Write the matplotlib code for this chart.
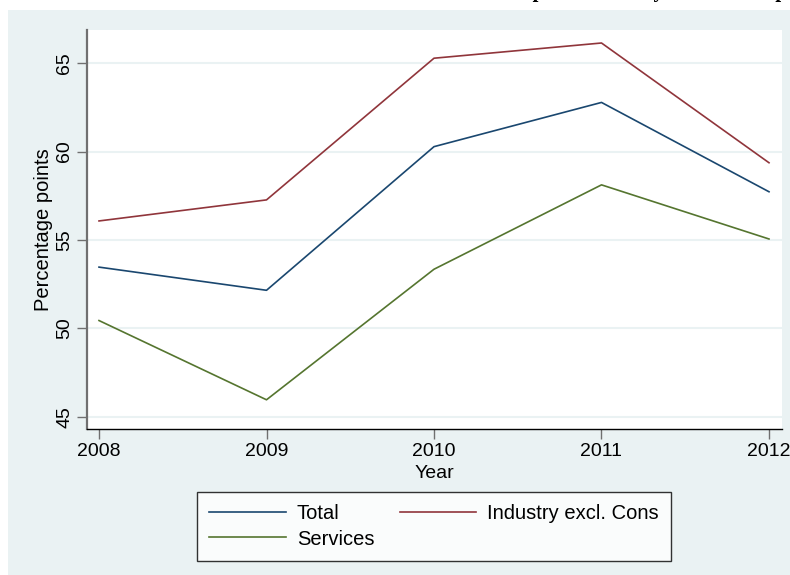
import matplotlib
matplotlib.use("Agg")
import matplotlib.pyplot as plt
from matplotlib.patches import Rectangle

years = [2008, 2009, 2010, 2011, 2012]
total = [53.47, 52.16, 60.28, 62.78, 57.73]
industry = [56.08, 57.27, 65.28, 66.14, 59.37]
services = [50.45, 45.97, 53.35, 58.12, 55.06]
yticks = [45, 50, 55, 60, 65]
labels = ["Total", "Industry excl. Cons", "Services"]
title = "Mean markup over costs by sectors as a percentage"

plt.rcParams['font.family'] = ['Liberation Sans', 'DejaVu Sans']

W, H = 790, 575
fig = plt.figure(figsize=(W / 100, H / 100), dpi=100)
fig.patch.set_facecolor('white')
bg = '#eaf2f3'
fig.add_artist(Rectangle((8 / W, 0), 1 - 8 / W, 1 - 10 / H, transform=fig.transFigure,
                         facecolor=bg, edgecolor='none', zorder=-10))

# clipped title (only descenders visible)
fig.text(416 / W, 1 + 2.5 / H, title, ha='left', va='baseline',
         family='Liberation Serif', fontweight='bold', fontsize=15)

ax = fig.add_axes([87 / W, 1 - 429 / H, (782 - 87) / W, (429 - 30) / H])
ax.set_facecolor('white')

c_total = '#1a476f'
c_ind = '#90353b'
c_serv = '#55752f'
lt, = ax.plot(years, total, color=c_total, lw=1.2)
li, = ax.plot(years, industry, color=c_ind, lw=1.2)
ls, = ax.plot(years, services, color=c_serv, lw=1.2)

ax.set_xlim(2008 - 12 / 167.5, 2012 + 13 / 167.5)
ax.set_ylim(45 - 12 / 17.6, 65 + 33 / 17.6)
ax.set_yticks(yticks)
ax.set_xticks(years)
ax.set_yticklabels([str(v) for v in yticks], rotation=90, va='center', fontsize=14)
ax.set_xticklabels([str(v) for v in years], fontsize=14)
ax.grid(axis='y', color=bg, lw=1.5)
ax.set_axisbelow(True)
for s in ['top', 'right']:
    ax.spines[s].set_visible(False)
ax.spines['left'].set_color('#707070')
ax.spines['left'].set_linewidth(1.6)
ax.spines['bottom'].set_color('black')
ax.spines['bottom'].set_linewidth(1.0)
ax.tick_params(axis='y', length=7, width=1, color='#707070', pad=3)
ax.tick_params(axis='x', length=7, width=1, color='#707070', pad=3)
ax.set_xlabel('Year', fontsize=14, labelpad=4)
ax.set_ylabel('Percentage points', fontsize=14.5, labelpad=2)

leg = fig.legend([lt, ls, li], [labels[0], labels[2], labels[1]], ncol=2,
                 loc='center', bbox_to_anchor=(197 / W, 1 - 559 / H, 474 / W, 65 / H),
                 mode='expand', borderaxespad=0, fontsize=14.5, frameon=True, fancybox=False,
                 edgecolor='black', handlelength=3.8, handletextpad=0.55,
                 columnspacing=3.0, labelspacing=0.3, borderpad=0.6)
leg.get_frame().set_linewidth(1.0)
leg.get_frame().set_facecolor('white')

fig.savefig('out.png', dpi=100, facecolor=fig.get_facecolor())
